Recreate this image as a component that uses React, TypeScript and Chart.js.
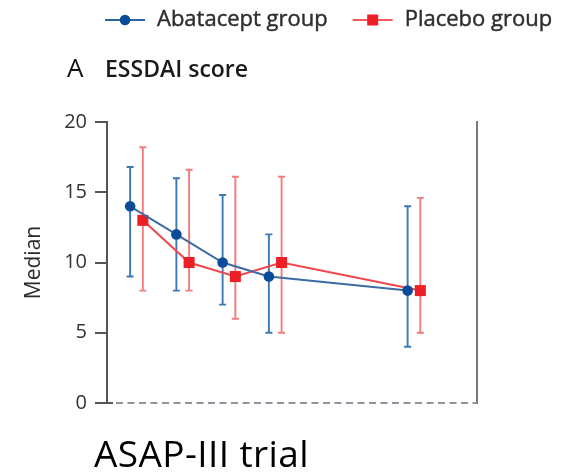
import React, { useEffect, useRef } from "react";
import { Chart, registerables } from "chart.js";

Chart.register(...registerables);

// ---- data ----
const weeks = [0, 4, 8, 12, 24];
const placeboShift = 1.1; // placebo points drawn slightly to the right of each visit
const seriesLabels = ["Abatacept group", "Placebo group"];
const abataceptMedian = [14, 12, 10, 9, 8];
const abataceptLow = [9, 8, 7, 5, 4];
const abataceptHigh = [16.8, 16, 14.8, 12, 14];
const placeboMedian = [13, 10, 9, 10, 8];
const placeboLow = [8, 8, 6, 5, 5];
const placeboHigh = [18.2, 16.6, 16.1, 16.1, 14.6];
const yTicks = [0, 5, 10, 15, 20];

const FONT = "'Open Sans', 'DejaVu Sans', sans-serif";

const errorBarPlugin = {
  id: "errorBars",
  beforeDatasetsDraw(chart: any) {
    const { ctx } = chart;
    const y = chart.scales.y;
    chart.data.datasets.forEach((ds: any, di: number) => {
      const meta = chart.getDatasetMeta(di);
      ctx.save();
      ctx.strokeStyle = ds.errorColor;
      ctx.lineWidth = 1.9;
      meta.data.forEach((pt: any, i: number) => {
        const px = pt.x;
        const yl = y.getPixelForValue(ds.errorLow[i]);
        const yh = y.getPixelForValue(ds.errorHigh[i]);
        ctx.beginPath();
        ctx.moveTo(px, yl);
        ctx.lineTo(px, yh);
        ctx.moveTo(px - 3.5, yl);
        ctx.lineTo(px + 3.5, yl);
        ctx.moveTo(px - 3.5, yh);
        ctx.lineTo(px + 3.5, yh);
        ctx.stroke();
      });
      ctx.restore();
    });
  },
};

// dashed baseline along the x axis (solid short stub next to the y axis)
const baselinePlugin = {
  id: "dashedBaseline",
  beforeDatasetsDraw(chart: any) {
    const { ctx, chartArea } = chart;
    const yb = chart.scales.y.getPixelForValue(0);
    ctx.save();
    ctx.lineWidth = 2;
    ctx.strokeStyle = "#555";
    ctx.beginPath();
    ctx.moveTo(chartArea.left, yb);
    ctx.lineTo(chartArea.left + 6, yb);
    ctx.stroke();
    ctx.strokeStyle = "#8f959c";
    ctx.setLineDash([7, 4.5]);
    ctx.beginPath();
    ctx.moveTo(chartArea.left + 9, yb);
    ctx.lineTo(chartArea.right, yb);
    ctx.stroke();
    ctx.restore();
  },
};

const legendPlugin = {
  id: "lineMarkerLegend",
  afterDraw(chart: any, _args: any, opts: any) {
    const { ctx } = chart;
    ctx.save();
    ctx.font = opts.font;
    ctx.textBaseline = "middle";
    let xpos = opts.x;
    const yc = opts.y;
    chart.data.datasets.forEach((ds: any) => {
      ctx.strokeStyle = ds.legendLineColor;
      ctx.lineWidth = 2;
      ctx.beginPath();
      ctx.moveTo(xpos, yc);
      ctx.lineTo(xpos + opts.symbolWidth, yc);
      ctx.stroke();
      const cx = xpos + opts.symbolWidth / 2;
      ctx.fillStyle = ds.pointBackgroundColor;
      if (ds.pointStyle === "rect") {
        const s = ds.pointRadius * Math.SQRT1_2;
        ctx.fillRect(cx - s, yc - s, 2 * s, 2 * s);
      } else {
        ctx.beginPath();
        ctx.arc(cx, yc, ds.pointRadius, 0, Math.PI * 2);
        ctx.fill();
      }
      xpos += opts.symbolWidth + opts.textGap;
      ctx.fillStyle = opts.color;
      ctx.strokeStyle = opts.color;
      ctx.lineWidth = 0.45;
      ctx.fillText(ds.label, xpos, yc);
      ctx.strokeText(ds.label, xpos, yc);
      xpos += ctx.measureText(ds.label).width + opts.itemGap;
    });
    ctx.restore();
  },
};

export default function App() {
  const ref = useRef<HTMLCanvasElement>(null);

  useEffect(() => {
    const chart = new Chart(ref.current as HTMLCanvasElement, {
      type: "line",
      data: {
        datasets: [
          {
            label: seriesLabels[0],
            data: weeks.map((w, i) => ({ x: w, y: abataceptMedian[i] })),
            borderColor: "#3c6ca3",
            borderWidth: 2,
            pointStyle: "circle",
            pointRadius: 5.3,
            pointBackgroundColor: "#0b4c9a",
            pointBorderWidth: 0,
            errorLow: abataceptLow,
            errorHigh: abataceptHigh,
            errorColor: "#3d77b6",
            legendLineColor: "#2c63a6",
          } as any,
          {
            label: seriesLabels[1],
            data: weeks.map((w, i) => ({ x: w + placeboShift, y: placeboMedian[i] })),
            borderColor: "#f0484c",
            borderWidth: 2,
            pointStyle: "rect",
            pointRadius: 7.8,
            pointBackgroundColor: "#ec1f26",
            pointBorderWidth: 0,
            errorLow: placeboLow,
            errorHigh: placeboHigh,
            errorColor: "#f37a7d",
            legendLineColor: "#f25a5e",
          } as any,
        ],
      },
      options: {
        responsive: false,
        animation: false,
        devicePixelRatio: 1,
        layout: { padding: { top: 122, bottom: 69, left: 0, right: 92 } },
        plugins: {
          legend: { display: false },
          tooltip: { enabled: false },
          lineMarkerLegend: {
            x: 105,
            y: 20,
            symbolWidth: 40,
            textGap: 12,
            itemGap: 25,
            font: `22px ${FONT}`,
            color: "#2e2e2e",
          },
        } as any,
        scales: {
          x: {
            type: "linear",
            min: -2,
            max: 30,
            position: "bottom",
            ticks: { display: false },
            grid: { display: false },
            border: { display: false },
            afterFit(s: any) {
              s.height = 0;
            },
          },
          y: {
            type: "linear",
            min: 0,
            max: 20,
            position: "left",
            afterBuildTicks(s: any) {
              s.ticks = yTicks.map((v) => ({ value: v }));
            },
            ticks: { font: { family: FONT, size: 20 }, color: "#333", padding: 8 },
            grid: {
              display: true,
              drawOnChartArea: false,
              drawTicks: true,
              tickLength: 12,
              color: "#555",
              lineWidth: 2,
            },
            border: { display: true, color: "#555", width: 2 },
            title: {
              display: true,
              text: "Median",
              font: { family: FONT, size: 21 },
              color: "#2a2a2a",
              padding: { top: 21, bottom: 0 },
            },
            afterFit(s: any) {
              s.width = 107;
            },
          },
          y2: {
            type: "linear",
            min: 0,
            max: 20,
            position: "right",
            ticks: { display: false },
            grid: { display: false },
            border: { display: true, color: "#777", width: 2 },
            afterFit(s: any) {
              s.width = 0;
            },
          },
        } as any,
      },
      plugins: [baselinePlugin, errorBarPlugin, legendPlugin],
    });
    return () => chart.destroy();
  }, []);

  return (
    <div style={{ position: "absolute", left: 0, top: 0, width: 569, height: 472, background: "#fff" }}>
      <canvas ref={ref} width={569} height={472} style={{ position: "absolute", left: 0, top: 0 }} />
      <div style={{ position: "absolute", left: 67, top: 54, fontFamily: FONT, fontSize: 26, lineHeight: "26px", color: "#111" }}>A</div>
      <div style={{ position: "absolute", left: 105, top: 56.5, fontFamily: FONT, fontSize: 23, fontWeight: 600, lineHeight: "23px", color: "#1a1a1a", whiteSpace: "nowrap" }}>ESSDAI score</div>
      <div style={{ position: "absolute", left: 94, top: 434, fontFamily: FONT, fontSize: 37, lineHeight: "37px", letterSpacing: 0.4, color: "#000", whiteSpace: "nowrap" }}>ASAP-III trial</div>
    </div>
  );
}
